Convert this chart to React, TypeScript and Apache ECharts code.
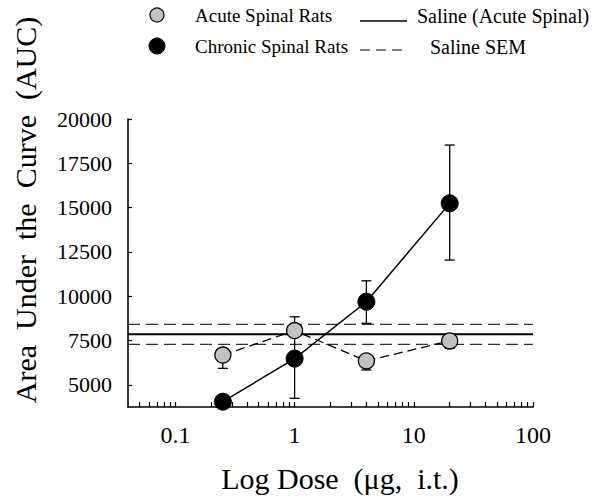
import React, { useEffect, useRef } from "react";
import * as echarts from "echarts";

// ---- data ----
const doses = [0.25, 1, 4, 20];
const acuteMean = [6680, 8060, 6350, 7480];
const acuteLow = [5930, 8060, 5840, 7060];
const acuteHigh = [6680, 8060, 6350, 7480];
const chronicMean = [4050, 6480, 9690, 15240];
const chronicLow = [4050, 4240, 8470, 12040];
const chronicHigh = [4050, 8840, 10870, 18530];
const salineMean = 7850;
const salineSemHigh = 8410;
const salineSemLow = 7280;

const xMinDose = 0.04;
const xMaxDose = 100;
const xLabelDoses = [0.1, 1, 10, 100];
const xLabelTexts = ["0.1", "1", "10", "100"];
const xTickDoses = [
  0.05, 0.06, 0.07, 0.08, 0.09,
  0.1, 0.2, 0.3, 0.4, 0.5, 0.6, 0.7, 0.8, 0.9,
  1, 2, 3, 4, 5, 6, 7, 8, 9,
  10, 20, 30, 40, 50, 60, 70, 80, 90, 100,
];
const yTicks = [5000, 7500, 10000, 12500, 15000, 17500, 20000];
const yMin = 3750;
const yMax = 20000;

const FONT = "'Liberation Serif', 'Times New Roman', serif";
const lg = (v: number) => Math.log10(v);

const App: React.FC = () => {
  const ref = useRef<HTMLDivElement>(null);

  useEffect(() => {
    if (!ref.current) return;
    const chart = echarts.init(ref.current, undefined, { renderer: "svg" });

    const errData = (mean: number[], lo: number[], hi: number[]) =>
      doses.map((d, i) => [lg(d), mean[i], lo[i], hi[i]]);

    const renderErr = (params: any, api: any) => {
      const x = api.value(0);
      const m = api.value(1);
      const lo = api.value(2);
      const hi = api.value(3);
      const pm = api.coord([x, m]);
      const pl = api.coord([x, lo]);
      const ph = api.coord([x, hi]);
      const w = 5;
      const style = { stroke: "#000", lineWidth: 1.3 };
      const children: any[] = [];
      if (Math.abs(lo - m) > 1) {
        children.push({ type: "line", shape: { x1: pm[0], y1: pm[1], x2: pl[0], y2: pl[1] }, style });
        children.push({ type: "line", shape: { x1: pl[0] - w, y1: pl[1], x2: pl[0] + w, y2: pl[1] }, style });
      }
      if (Math.abs(hi - m) > 1) {
        children.push({ type: "line", shape: { x1: pm[0], y1: pm[1], x2: ph[0], y2: ph[1] }, style });
        children.push({ type: "line", shape: { x1: ph[0] - w, y1: ph[1], x2: ph[0] + w, y2: ph[1] }, style });
      }
      return { type: "group", children };
    };

    const hline = (v: number, dashed: boolean, width: number, color: string) => ({
      type: "line",
      data: [
        [lg(xMinDose), v],
        [lg(xMaxDose), v],
      ],
      symbol: "none",
      silent: true,
      z: 1,
      lineStyle: { color, width, type: dashed ? [12, 6] : "solid" },
    });

    chart.setOption({
      animation: false,
      backgroundColor: "#fff",
      grid: { left: 128, right: 65, top: 119, bottom: 90, containLabel: false },
      xAxis: {
        type: "value",
        min: lg(xMinDose),
        max: lg(xMaxDose),
        splitLine: { show: false },
        axisLine: { onZero: false, lineStyle: { color: "#000", width: 1.6 } },
        axisTick: {
          show: true,
          inside: true,
          length: 5,
          lineStyle: { color: "#000", width: 1.2 },
          customValues: xTickDoses.map(lg),
        },
        axisLabel: {
          customValues: xLabelDoses.map(lg),
          formatter: (v: number) => {
            const i = xLabelDoses.findIndex((d) => Math.abs(lg(d) - v) < 1e-6);
            return i >= 0 ? xLabelTexts[i] : "";
          },
          color: "#000",
          fontFamily: FONT,
          fontSize: 24,
          margin: 16,
        },
      },
      yAxis: {
        type: "value",
        min: yMin,
        max: yMax,
        splitLine: { show: false },
        axisLine: { show: true, onZero: false, lineStyle: { color: "#000", width: 1.6 } },
        axisTick: {
          show: true,
          inside: true,
          length: 4,
          lineStyle: { color: "#000", width: 1.2 },
          customValues: yTicks,
        },
        axisLabel: {
          customValues: yTicks,
          formatter: (v: number) => String(Math.round(v)),
          color: "#000",
          fontFamily: FONT,
          fontSize: 22,
          margin: 16,
        },
      },
      series: [
        hline(salineMean, false, 2, "#000"),
        hline(salineSemHigh, true, 1.3, "#333"),
        hline(salineSemLow, true, 1.3, "#333"),
        {
          type: "custom",
          renderItem: renderErr,
          data: errData(chronicMean, chronicLow, chronicHigh),
          z: 2,
          silent: true,
        },
        {
          type: "custom",
          renderItem: renderErr,
          data: errData(acuteMean, acuteLow, acuteHigh),
          z: 2,
          silent: true,
        },
        {
          name: "Acute Spinal Rats",
          type: "line",
          data: doses.map((d, i) => [lg(d), acuteMean[i]]),
          symbol: "circle",
          symbolSize: 16,
          z: 3,
          lineStyle: { color: "#000", width: 1.3, type: [9, 5] },
          itemStyle: { color: "#c2c2c2", borderColor: "#000", borderWidth: 1.3 },
        },
        {
          name: "Chronic Spinal Rats",
          type: "line",
          data: doses.map((d, i) => [lg(d), chronicMean[i]]),
          symbol: "circle",
          symbolSize: 17,
          z: 4,
          lineStyle: { color: "#000", width: 1.5 },
          itemStyle: { color: "#000", borderColor: "#000", borderWidth: 1 },
        },
      ],
      graphic: [
        {
          type: "text",
          x: 25,
          y: 210,
          rotation: Math.PI / 2,
          style: {
            text: "Area  Under  the  Curve  (AUC)",
            font: `30px ${FONT}`,
            fill: "#000",
            textAlign: "center",
            textVerticalAlign: "middle",
          },
        },
        {
          type: "text",
          x: 340,
          y: 478,
          style: {
            text: "Log Dose  (μg,  i.t.)",
            font: `30px ${FONT}`,
            fill: "#000",
            textAlign: "center",
            textVerticalAlign: "middle",
          },
        },
        // legend
        {
          type: "circle",
          shape: { cx: 157, cy: 15, r: 7 },
          style: { fill: "#c2c2c2", stroke: "#000", lineWidth: 1.2 },
        },
        {
          type: "text",
          x: 195,
          y: 15,
          style: { text: "Acute Spinal Rats", font: `19px ${FONT}`, fill: "#000", textVerticalAlign: "middle" },
        },
        {
          type: "circle",
          shape: { cx: 157, cy: 46, r: 8 },
          style: { fill: "#000", stroke: "#000", lineWidth: 1 },
        },
        {
          type: "text",
          x: 195,
          y: 46,
          style: { text: "Chronic Spinal Rats", font: `19px ${FONT}`, fill: "#000", textVerticalAlign: "middle" },
        },
        {
          type: "line",
          shape: { x1: 360, y1: 21, x2: 407, y2: 21 },
          style: { stroke: "#000", lineWidth: 1.5 },
        },
        {
          type: "text",
          x: 417,
          y: 16,
          style: { text: "Saline (Acute Spinal)", font: `20px ${FONT}`, fill: "#000", textVerticalAlign: "middle" },
        },
        {
          type: "line",
          shape: { x1: 360, y1: 50, x2: 407, y2: 50 },
          style: { stroke: "#000", lineWidth: 1.2, lineDash: [10, 6] },
        },
        {
          type: "text",
          x: 430,
          y: 47,
          style: { text: "Saline SEM", font: `20px ${FONT}`, fill: "#000", textVerticalAlign: "middle" },
        },
      ],
    });

    return () => chart.dispose();
  }, []);

  return <div ref={ref} style={{ width: 598, height: 497, position: "absolute", left: 0, top: 0 }} />;
};

export default App;
